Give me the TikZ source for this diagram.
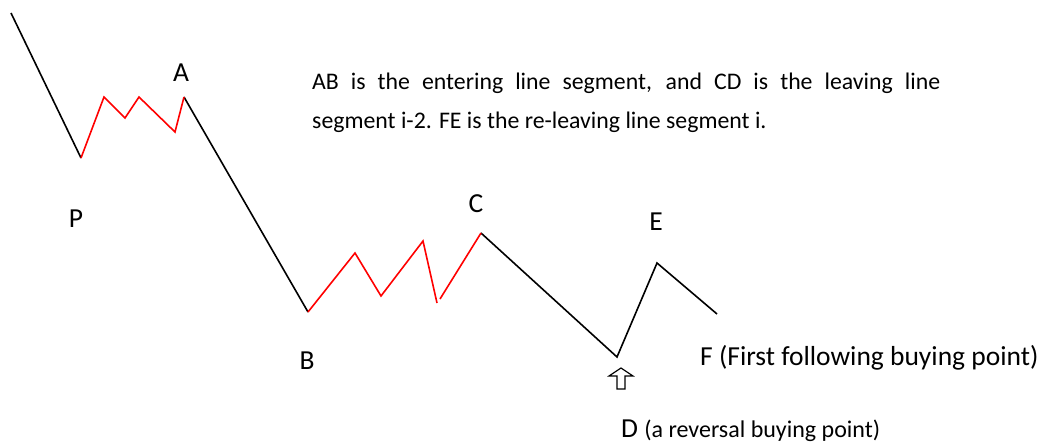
\documentclass[tikz,border=0pt]{standalone}
\usepackage{fontspec}
\setmainfont{Carlito}
\usetikzlibrary{positioning,calc}
\definecolor{Wave}{HTML}{FF0000}

\begin{document}
\begin{tikzpicture}[x=1pt,y=-1pt,
    trend/.style={black,line width=1.6pt},
    wave/.style={Wave,line width=1.6pt},
    lbl/.style={font=\fontsize{27.5}{32}\selectfont,inner sep=0pt},
    note/.style={font=\fontsize{23.8}{38.5}\selectfont,inner sep=0pt}]
    \useasboundingbox (0,0) rectangle (1044,444);
    % turning points of the trend
    \coordinate (S) at (11,13);
    \coordinate (P) at (81,158);
    \coordinate (A) at (184,97);
    \coordinate (B) at (308,312);
    \coordinate (C) at (481,233);
    \coordinate (D) at (617,357);
    \coordinate (E) at (657,263);
    \coordinate (F) at (717,314);
    % inner swings
    \foreach \n/\xx/\yy in {p1/104/97,p2/125/118,p3/139/97,p4/175/132,
                            b1/355/253,b2/381/296,b3/423/241,b4/437/303,b5/440/299}
      \coordinate (\n) at (\xx,\yy);
    \draw[trend] (S) -- (P);
    \draw[trend] (A) -- (B);
    \draw[trend] (C) -- (D) -- (E) -- (F);
    \draw[wave] (P) -- (p1) -- (p2) -- (p3) -- (p4) -- (A);
    \draw[wave] (B) -- (b1) -- (b2) -- (b3) -- (b4);
    \draw[wave] (b5) -- (C);
    % labels
    \node[lbl] (lA) at (181,73) {A};
    \node[lbl] (lP) at (76,219) {P};
    \node[lbl] (lB) at (307,361) {B};
    \node[lbl] (lC) at (476,204) {C};
    \node[lbl] (lE) at (656,222) {E};
    \node[lbl,anchor=west] (lF) at (700,358) {F (First following buying point)};
    \node[lbl,anchor=base west] (lD) at (621,437) {D {\fontsize{24}{28}\selectfont(a reversal buying point)}};
    \node[note,anchor=north west,text width=628pt,align=justify] (txt) at (312,73)
      {AB is the entering line segment, and CD is the leaving line\linebreak
       segment i-2. FE is the re-leaving line segment i.};
    % hollow arrow under D
    \draw[line width=1.2pt,line join=miter]
      (617,389) -- (617,376) -- (609,376) -- (621,368) -- (633,376)
      -- (625,376) -- (625,389) -- cycle;
  \end{tikzpicture}
\end{document}
